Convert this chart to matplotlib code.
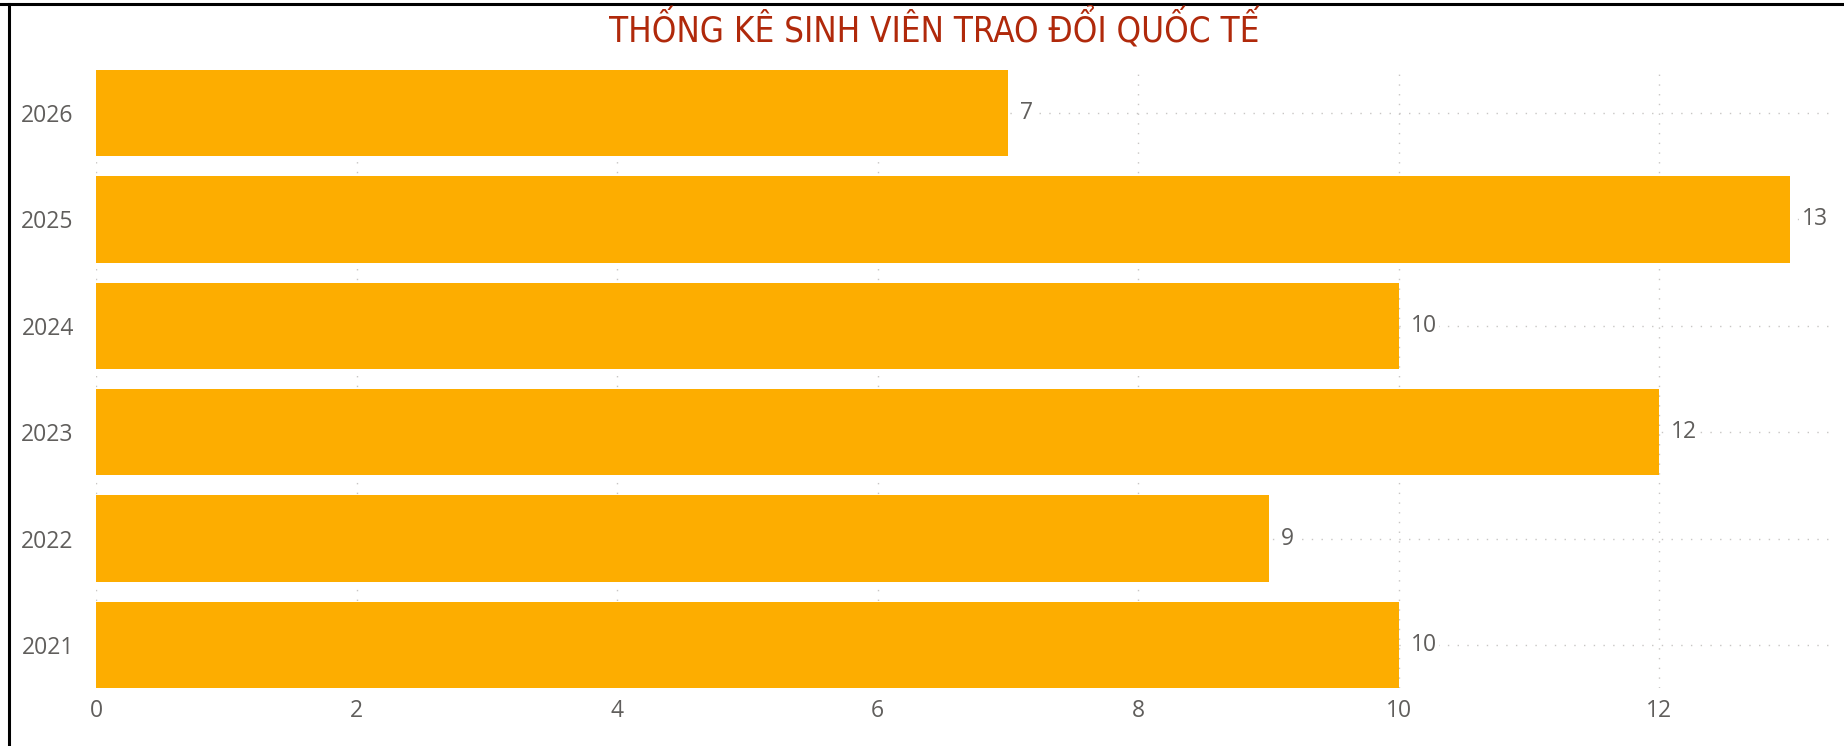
import matplotlib
matplotlib.use("Agg")
import matplotlib.pyplot as plt
from matplotlib.lines import Line2D

years = ["2021", "2022", "2023", "2024", "2025", "2026"]
counts = [10, 9, 12, 10, 13, 7]
xticks = [0, 2, 4, 6, 8, 10, 12]
title = "THỐNG KÊ SINH VIÊN TRAO ĐỔI QUỐC TẾ"

BAR = "#FDAD00"
TXT = "#605E5C"
GRID = "#C8C6C4"
TITLE_C = "#B0290B"
FONT = ["Open Sans", "DejaVu Sans"]

W, H = 1844, 746
fig = plt.figure(figsize=(W / 100, H / 100), dpi=100)
fig.patch.set_facecolor("white")

left, right = 96 / W, 1830 / W
top, bottom = 1 - 70 / H, 1 - 688 / H
ax = fig.add_axes([left, bottom, right - left, top - bottom])

pos = list(range(len(years)))
ax.set_xlim(0, 13.31)
ax.set_ylim(-0.405, len(years) - 1 + 0.405)

# gridlines
for xv in xticks:
    ax.axvline(xv, color=GRID, lw=1.0, linestyle=(0, (1, 6)), zorder=0)
for p in pos:
    ax.axhline(p, color=GRID, lw=1.0, linestyle=(0, (1, 6)), zorder=0)

ax.barh(pos, counts, height=0.81, color=BAR, zorder=2)

for p, v in zip(pos, counts):
    ax.annotate(str(v), xy=(v, p), xytext=(12, 0), textcoords="offset pixels",
                ha="left", va="center", fontsize=16.5, color=TXT, family=FONT,
                bbox=dict(boxstyle="square,pad=0.1", fc="white", ec="none"), zorder=3)

ax.set_yticks(pos)
ax.set_yticklabels(years, family=FONT, fontsize=16.5, color=TXT)
ax.set_xticks(xticks)
ax.set_xticklabels([str(x) for x in xticks], family=FONT, fontsize=16.5, color=TXT)
ax.tick_params(axis="y", length=0, pad=16)
ax.tick_params(axis="x", length=0, pad=8)
for s in ax.spines.values():
    s.set_visible(False)
ax.set_facecolor("none")

fig.text(934 / W, 1 - 29 / H, title, ha="center", va="center",
         fontsize=25, color=TITLE_C, fontstretch="condensed",
         family=["DejaVu Sans"])

# frame border (top and left)
fig.add_artist(Line2D([0, 1], [1 - 4 / H, 1 - 4 / H], transform=fig.transFigure,
                      color="black", lw=2.2))
fig.add_artist(Line2D([8.5 / W, 8.5 / W], [0, 1 - 4 / H], transform=fig.transFigure,
                      color="black", lw=2.2))

fig.savefig("out.png", dpi=100, facecolor="white")
